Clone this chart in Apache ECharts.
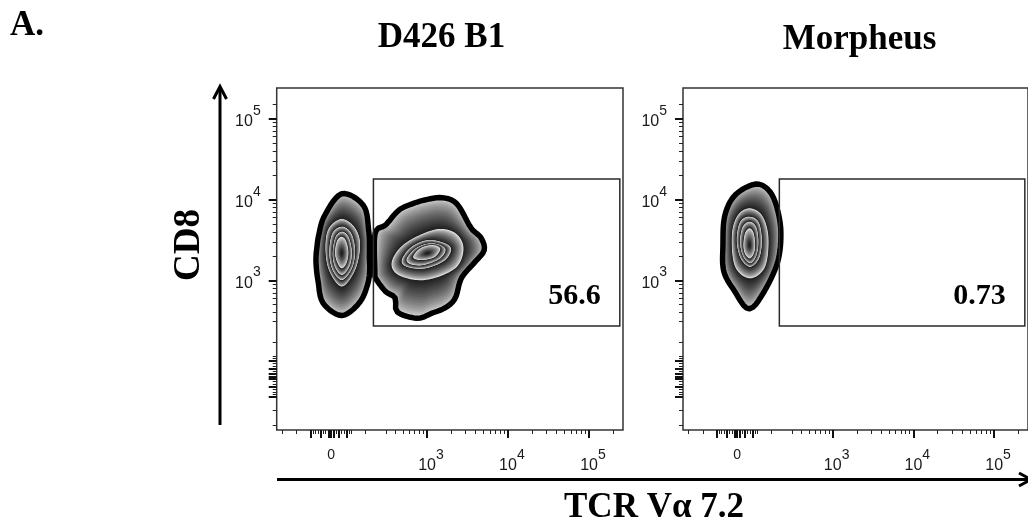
<!DOCTYPE html>
<html>
<head>
<meta charset="utf-8">
<title>CD8 vs TCR Vα 7.2</title>
<script src="https://cdn.jsdelivr.net/npm/echarts@6.0.0/dist/echarts.min.js"></script>
<style>
html,body{margin:0;padding:0;background:#fff;}
#chart{width:1028px;height:522px;}
</style>
</head>
<body>
<div id="chart"></div>
<script>
// Biexponential (arcsinh) display scale, expressed in decades; W is the linear width.
const W = 132;
const biex = v => Math.asinh(v / W) / Math.LN10;

const panelTitles = ['D426 B1', 'Morpheus'];
const xAxisName = 'TCR Vα 7.2';
const yAxisName = 'CD8';

// Gate limits (fluorescence) and percentage of events inside it, per panel
const gateTCR = [200, 240000];
const gateCD8 = [260, 18000];
const gateFreq = [56.6, 0.73];

// Tick marks (fluorescence values)
const xLabelValues = [0, 1e3, 1e4, 1e5];
const yLabelValues = [1e3, 1e4, 1e5];
const majorTicks = [-80, -40, -10, 0, 10, 30, 60, 1e3, 1e4, 1e5];
const xMinorTicks = [-250, -150, -70, -60, -50, -30, -20, 20, 40, 50, 70, 80, 150, 300, 400, 500, 600, 700, 800, 900,
  2000, 3000, 4000, 5000, 6000, 7000, 8000, 9000, 20000, 30000, 40000, 50000, 60000, 70000, 80000, 90000, 200000];
const yMinorTicks = [-250, -150, -70, -60, -50, -30, -20, 20, 40, 50, 70, 80, 150, 300, 400, 500, 600, 700, 800, 900,
  2000, 3000, 4000, 5000, 6000, 7000, 8000, 9000, 20000, 30000, 40000, 50000, 60000, 70000, 80000, 90000, 150000];

// Visible range of both panels, in display units
const xView = [-0.67, 3.60];
const yView = [-0.663, 3.56];

// Density contour levels (display units: [TCR Vα 7.2, CD8]), outermost first.
// D426 B1, TCR Vα 7.2 negative cluster
const d426NegOuter = [[0.506,1.460],[0.506,1.616],[0.490,1.819],[0.414,2.140],[0.132,2.288],[-0.093,2.016],[-0.177,1.769],[-0.207,1.601],
  [-0.219,1.460],[-0.210,1.319],[-0.181,1.147],[-0.111,0.874],[0.132,0.716],[0.364,0.880],[0.475,1.117],[0.506,1.305]];
const d426NegL2 = [[0.358,1.621],[0.296,1.831],[0.136,1.942],[-0.025,1.831],[-0.068,1.596],[-0.025,1.312],[0.132,1.109],[0.296,1.312]];
const d426NegL3 = [[0.296,1.559],[0.247,1.769],[0.136,1.847],[0.019,1.769],[-0.021,1.535],[0.019,1.312],[0.136,1.189],[0.259,1.337]];
const d426NegL4 = [[0.256,1.535],[0.216,1.720],[0.136,1.785],[0.056,1.720],[0.021,1.522],[0.049,1.349],[0.136,1.251],[0.229,1.362]];
const d426NegL5 = [[0.214,1.535],[0.185,1.670],[0.132,1.723],[0.074,1.670],[0.049,1.522],[0.080,1.399],[0.132,1.333],[0.191,1.399]];

// D426 B1, TCR Vα 7.2 positive cluster
const d426PosOuter = [[0.510,1.769],[0.646,1.889],[0.811,2.074],[0.975,2.156],[1.181,2.217],[1.386,2.238],[1.572,2.156],[1.757,1.847],
  [1.880,1.723],[1.922,1.559],[1.799,1.395],[1.633,1.189],[1.552,0.942],[1.428,0.819],[1.222,0.736],[1.099,0.686],[0.935,0.704],
  [0.790,0.778],[0.769,0.942],[0.646,1.025],[0.522,1.189],[0.510,1.230]];
const d426PosL2 = [[0.749,1.415],[0.914,1.642],[1.284,1.812],[1.531,1.769],[1.633,1.580],[1.531,1.333],[1.160,1.189],[0.831,1.251]];
const d426PosL3 = [[0.873,1.436],[0.996,1.600],[1.222,1.683],[1.469,1.600],[1.407,1.436],[1.160,1.333],[0.935,1.353]];
const d426PosL4 = [[0.935,1.457],[1.058,1.588],[1.243,1.642],[1.407,1.580],[1.346,1.457],[1.140,1.374],[0.975,1.386]];
const d426PosL5 = [[1.016,1.489],[1.099,1.580],[1.243,1.621],[1.346,1.580],[1.284,1.477],[1.140,1.436],[1.037,1.448]];

// Morpheus, single TCR Vα 7.2 negative cluster
const morphOuter = [[0.201,2.402],[0.367,2.362],[0.490,2.177],[0.572,1.806],[0.531,1.395],[0.325,0.983],[0.140,0.798],[-0.046,1.025],
  [-0.189,1.272],[-0.210,1.600],[-0.179,1.991],[-0.046,2.259]];
const morphL2 = [[0.140,2.074],[0.305,1.991],[0.386,1.723],[0.346,1.353],[0.160,1.210],[-0.025,1.353],[-0.065,1.723],[-0.004,1.970]];
const morphL3 = [[0.148,1.970],[0.265,1.905],[0.305,1.683],[0.272,1.460],[0.160,1.353],[0.043,1.460],[-0.004,1.683],[0.037,1.905]];
const morphL4 = [[0.154,1.909],[0.235,1.843],[0.263,1.658],[0.235,1.485],[0.160,1.395],[0.074,1.485],[0.037,1.658],[0.068,1.843]];
const morphL5 = [[0.154,1.827],[0.204,1.769],[0.222,1.621],[0.204,1.510],[0.154,1.457],[0.099,1.510],[0.078,1.621],[0.099,1.769]];

const populations = [
  { center: [0.132, 1.52], levels: [d426NegOuter, d426NegL2, d426NegL3, d426NegL4, d426NegL5] },
  { center: [1.19, 1.52],  levels: [d426PosOuter, d426PosL2, d426PosL3, d426PosL4, d426PosL5] },
  { center: [0.154, 1.62], levels: [morphOuter, morphL2, morphL3, morphL4, morphL5] }
];

// ---- geometry helpers for the zebra-shaded contours ----
function smoothClosed(pts, n) {
  const out = [], L = pts.length;
  for (let i = 0; i < L; i++) {
    const p0 = pts[(i - 1 + L) % L], p1 = pts[i], p2 = pts[(i + 1) % L], p3 = pts[(i + 2) % L];
    for (let j = 0; j < n; j++) {
      const t = j / n, t2 = t * t, t3 = t2 * t;
      const f = k => 0.5 * (2 * p1[k] + (-p0[k] + p2[k]) * t + (2 * p0[k] - 5 * p1[k] + 4 * p2[k] - p3[k]) * t2 + (-p0[k] + 3 * p1[k] - 3 * p2[k] + p3[k]) * t3);
      out.push([f(0), f(1)]);
    }
  }
  return out;
}
function rayRadii(poly, c, dirs) {
  const L = poly.length;
  let last = 0;
  return dirs.map(d => {
    let best = -1;
    for (let i = 0; i < L; i++) {
      const a = poly[i], b = poly[(i + 1) % L];
      const ex = b[0] - a[0], ey = b[1] - a[1];
      const den = d[0] * ey - d[1] * ex;
      if (Math.abs(den) < 1e-9) continue;
      const wx = a[0] - c[0], wy = a[1] - c[1];
      const t = (wx * ey - wy * ex) / den;
      const s = (wx * d[1] - wy * d[0]) / den;
      if (s >= 0 && s <= 1 && t > 0 && t > best) best = t;
    }
    if (best < 0) best = last;
    last = best;
    return best;
  });
}
const N_DIR = 120;
const DIRS = Array.from({ length: N_DIR }, (_, k) => {
  const a = 2 * Math.PI * k / N_DIR;
  return [Math.cos(a), Math.sin(a)];
});

function renderPopulation(params, api) {
  const pop = populations[api.value(2)];
  const c = api.coord(pop.center);
  const rings = pop.levels.map(lv => rayRadii(smoothClosed(lv.map(p => api.coord(p)), 8), c, DIRS));
  const RIM = 5.5, STEPS = 18;
  const children = [];
  for (let b = 0; b < rings.length; b++) {
    const outer = b === 0 ? rings[0].map(r => r - RIM / 2) : rings[b];
    const inner = b + 1 < rings.length ? rings[b + 1] : rings[b].map(r => r * 0.1);
    for (let m = 0; m < STEPS; m++) {
      const t = m / STEPS;
      const pts = DIRS.map((d, k) => {
        const r = outer[k] * (1 - t) + inner[k] * t;
        return [c[0] + d[0] * r, c[1] + d[1] * r];
      });
      const g = Math.round(232 - 205 * Math.pow(t, 0.65));
      children.push({ type: 'polygon', silent: true, shape: { points: pts },
        style: { fill: 'rgb(' + g + ',' + g + ',' + g + ')' } });
    }
  }
  const rim = DIRS.map((d, k) => {
    const r = rings[0][k] - RIM / 2;
    return [c[0] + d[0] * r, c[1] + d[1] * r];
  });
  children.push({ type: 'polygon', silent: true, shape: { points: rim },
    style: { fill: 'none', stroke: '#000', lineWidth: RIM, lineJoin: 'round' } });
  return { type: 'group', children };
}

function renderGate(params, api) {
  const p0 = api.coord([api.value(0), api.value(1)]);
  const p1 = api.coord([api.value(2), api.value(3)]);
  const freq = gateFreq[api.value(4)];
  return { type: 'group', children: [
    { type: 'rect', silent: true,
      shape: { x: p0[0], y: p1[1], width: p1[0] - p0[0], height: p0[1] - p1[1] },
      style: { fill: 'none', stroke: '#2a2a2a', lineWidth: 1.5 } },
    { type: 'text', silent: true, x: p1[0] - 19, y: p0[1] - 30,
      style: { text: String(freq), font: 'bold 30px "Liberation Serif"', fill: '#000',
        align: 'right', verticalAlign: 'middle' } }
  ] };
}

// ---- axes ----
const LABEL_FONT = 'Liberation Sans';
const LABEL_COLOR = '#1a1a1a';
function tickLabel(value, list) {
  const v = list.find(t => Math.abs(biex(t) - value) < 1e-6);
  if (v === undefined) return '';
  if (v === 0) return '{z|0}';
  return '{b|10}{s|' + Math.round(Math.log10(v)) + '}';
}
const xRich = {
  z: { fontSize: 14, fontFamily: LABEL_FONT, color: LABEL_COLOR },
  b: { fontSize: 16, fontFamily: LABEL_FONT, color: LABEL_COLOR, padding: [10, 0, 0, 8], verticalAlign: 'bottom' },
  s: { fontSize: 14, fontFamily: LABEL_FONT, color: LABEL_COLOR, verticalAlign: 'top' }
};
const yRich = {
  b: { fontSize: 16, fontFamily: LABEL_FONT, color: LABEL_COLOR, padding: [10, 0, 4, 0], verticalAlign: 'bottom' },
  s: { fontSize: 14, fontFamily: LABEL_FONT, color: LABEL_COLOR, verticalAlign: 'top' }
};

function axisPair(dim, gridIndex) {
  const isX = dim === 'x';
  const view = isX ? xView : yView;
  const labels = isX ? xLabelValues : yLabelValues;
  const minor = isX ? xMinorTicks : yMinorTicks;
  const base = { type: 'value', min: view[0], max: view[1], position: isX ? 'bottom' : 'left',
    axisLine: { show: false, onZero: false }, splitLine: { show: false } };
  const major = Object.assign({}, base, {
    gridIndex: gridIndex,
    axisTick: { show: true, customValues: majorTicks.map(biex), length: 8,
      lineStyle: { width: 2, color: '#111' } },
    axisLabel: { show: true, customValues: labels.map(biex), margin: isX ? 18 : 16,
      formatter: v => tickLabel(v, labels), rich: isX ? xRich : yRich }
  });
  const minorAxis = Object.assign({}, base, {
    gridIndex: gridIndex + 1,
    axisTick: { show: true, customValues: minor.map(biex), length: 4,
      lineStyle: { width: 1, color: '#222' } },
    axisLabel: { show: false }
  });
  return [major, minorAxis];
}

const panelRects = [
  { left: 276.7, top: 88, width: 346.3, height: 342 },
  { left: 683, top: 88, width: 345, height: 342 }
];
const grids = [];
panelRects.forEach(r => {
  grids.push(Object.assign({ show: true, borderColor: '#333', borderWidth: 1.5, backgroundColor: 'transparent' }, r));
  grids.push(Object.assign({ show: false }, r));
});

const xAxes = [].concat(axisPair('x', 0), axisPair('x', 2));
const yAxes = [].concat(axisPair('y', 0), axisPair('y', 2));

const gateRow = i => [biex(gateTCR[0]), biex(gateCD8[0]), biex(gateTCR[1]), biex(gateCD8[1]), i];

const series = [
  { type: 'custom', name: panelTitles[0], xAxisIndex: 0, yAxisIndex: 0, z: 2,
    encode: { x: 0, y: 1 }, renderItem: renderPopulation,
    data: [[...populations[0].center, 0], [...populations[1].center, 1]] },
  { type: 'custom', name: panelTitles[1], xAxisIndex: 2, yAxisIndex: 2, z: 2,
    encode: { x: 0, y: 1 }, renderItem: renderPopulation,
    data: [[...populations[2].center, 2]] },
  { type: 'custom', name: 'gate', xAxisIndex: 0, yAxisIndex: 0, z: 3,
    encode: { x: [0, 2], y: [1, 3] }, renderItem: renderGate, data: [gateRow(0)] },
  { type: 'custom', name: 'gate', xAxisIndex: 2, yAxisIndex: 2, z: 3,
    encode: { x: [0, 2], y: [1, 3] }, renderItem: renderGate, data: [gateRow(1)] }
];

const SERIF_BOLD = '"Liberation Serif"';
const graphic = [
  { type: 'text', x: 10, y: 25.5, style: { text: 'A.', font: 'bold 35px ' + SERIF_BOLD, fill: '#000', align: 'left', verticalAlign: 'middle' } },
  { type: 'text', x: 441.5, y: 37.5, style: { text: panelTitles[0], font: 'bold 35px ' + SERIF_BOLD, fill: '#000', align: 'center', verticalAlign: 'middle' } },
  { type: 'text', x: 859.5, y: 40.3, style: { text: panelTitles[1], font: 'bold 35px ' + SERIF_BOLD, fill: '#000', align: 'center', verticalAlign: 'middle' } },
  { type: 'text', x: 189, y: 245, rotation: Math.PI / 2, style: { text: yAxisName, font: 'bold 37px ' + SERIF_BOLD, fill: '#000', align: 'center', verticalAlign: 'middle' } },
  { type: 'text', x: 654, y: 508, style: { text: xAxisName, font: 'bold 35px ' + SERIF_BOLD, fill: '#000', align: 'center', verticalAlign: 'middle' } },
  // axis direction arrows
  { type: 'polyline', shape: { points: [[220, 425], [220, 88]] }, style: { stroke: '#000', lineWidth: 3, fill: 'none' } },
  { type: 'polyline', shape: { points: [[213.5, 99], [220, 86.5], [226.5, 99]] }, style: { stroke: '#000', lineWidth: 3, fill: 'none' } },
  { type: 'polyline', shape: { points: [[277, 479.5], [1030, 479.5]] }, style: { stroke: '#000', lineWidth: 3, fill: 'none' } },
  { type: 'polyline', shape: { points: [[1019, 473], [1031, 479.5], [1019, 486]] }, style: { stroke: '#000', lineWidth: 3, fill: 'none' } }
];

const chart = echarts.init(document.getElementById('chart'), null, { renderer: 'canvas' });
chart.setOption({
  animation: false,
  backgroundColor: '#fff',
  grid: grids,
  xAxis: xAxes,
  yAxis: yAxes,
  series: series,
  graphic: graphic
});
</script>
</body>
</html>
